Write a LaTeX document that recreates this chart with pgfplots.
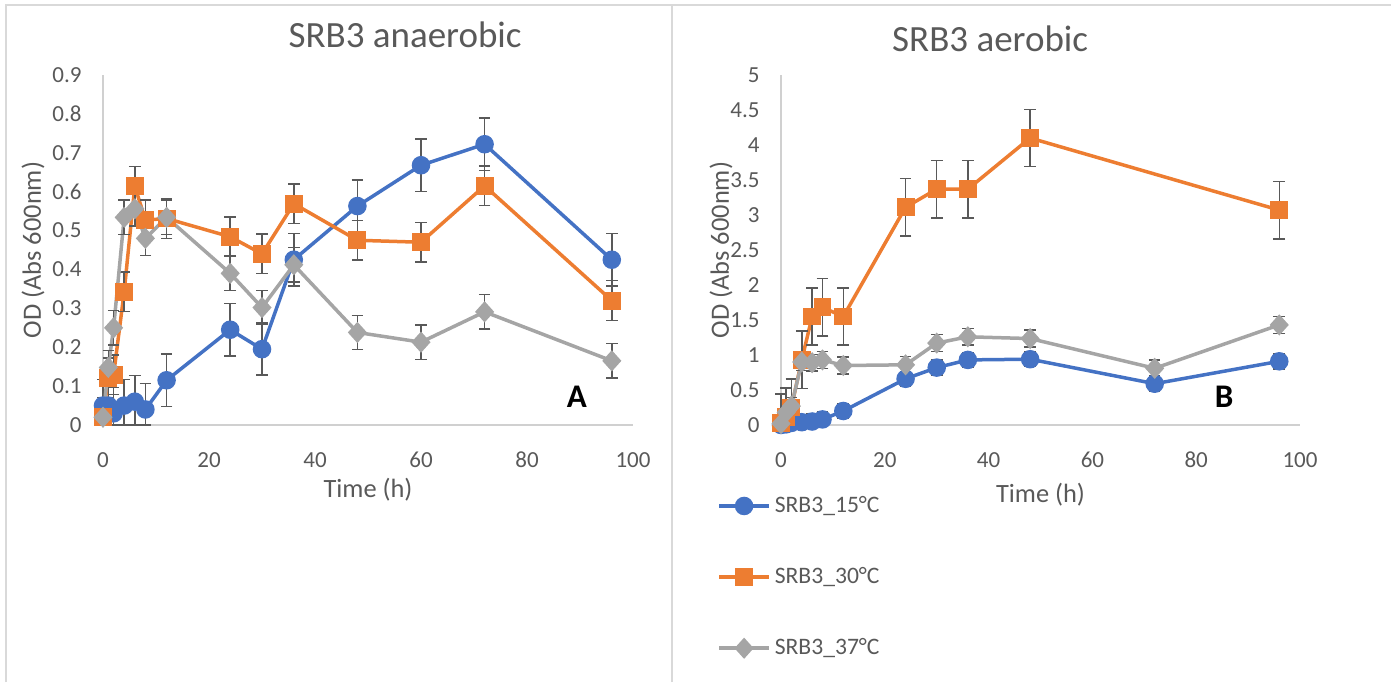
\documentclass[border=0pt]{standalone}
\usepackage{fontspec}
\setmainfont{Carlito}
\usepackage{pgfplots}
\usepackage{pgfplotstable}
\pgfplotsset{compat=1.18}
\definecolor{xlblue}{HTML}{4472C4}
\definecolor{xlorange}{HTML}{ED7D31}
\definecolor{xlgray}{HTML}{A5A5A5}
\definecolor{errgray}{HTML}{595959}
\definecolor{txtgray}{HTML}{595959}
\definecolor{axgray}{HTML}{D0D0D0}
\definecolor{framegray}{HTML}{D9D9D9}

% anaerobic (panel A); m = lower error, cut at the axis
\pgfplotstableread{
t v e m
0 0.05 0.067 0.05
1 0.05 0.067 0.05
2 0.03 0.067 0.03
4 0.05 0.067 0.05
6 0.06 0.067 0.06
8 0.04 0.067 0.04
12 0.115 0.067 0.067
24 0.245 0.067 0.067
30 0.195 0.067 0.067
36 0.425 0.067 0.067
48 0.563 0.067 0.067
60 0.668 0.067 0.067
72 0.722 0.067 0.067
96 0.425 0.067 0.067
}\anaBlue
\pgfplotstableread{
t v e m
0 0.02 0.051 0.02
1 0.121 0.051 0.051
2 0.129 0.051 0.051
4 0.343 0.051 0.051
6 0.614 0.051 0.051
8 0.527 0.051 0.051
12 0.531 0.051 0.051
24 0.484 0.051 0.051
30 0.44 0.051 0.051
36 0.569 0.051 0.051
48 0.475 0.051 0.051
60 0.47 0.051 0.051
72 0.615 0.051 0.051
96 0.32 0.051 0.051
}\anaOrange
\pgfplotstableread{
t v e m
0 0.02 0.044 0.02
1 0.148 0.044 0.044
2 0.25 0.044 0.044
4 0.534 0.044 0.044
6 0.556 0.044 0.044
8 0.48 0.044 0.044
12 0.534 0.044 0.044
24 0.39 0.044 0.044
30 0.302 0.044 0.044
36 0.412 0.044 0.044
48 0.238 0.044 0.044
60 0.213 0.044 0.044
72 0.291 0.044 0.044
96 0.165 0.044 0.044
}\anaGray

% aerobic (panel B)
\pgfplotstableread{
t v e m
0 0.0 0.107 0.0
1 0.01 0.107 0.01
2 0.03 0.107 0.03
4 0.04 0.107 0.04
6 0.05 0.107 0.05
8 0.08 0.107 0.08
12 0.2 0.107 0.107
24 0.66 0.107 0.107
30 0.82 0.107 0.107
36 0.93 0.107 0.107
48 0.94 0.107 0.107
72 0.59 0.107 0.107
96 0.91 0.107 0.107
}\aerBlue
\pgfplotstableread{
t v e m
0 0.03 0.41 0.03
1 0.12 0.41 0.12
2 0.25 0.41 0.25
4 0.93 0.41 0.41
6 1.55 0.41 0.41
8 1.68 0.41 0.41
12 1.55 0.41 0.41
24 3.11 0.41 0.41
30 3.37 0.41 0.41
36 3.37 0.41 0.41
48 4.1 0.41 0.41
96 3.07 0.41 0.41
}\aerOrange
\pgfplotstableread{
t v e m
0 0.02 0.12 0.02
1 0.18 0.12 0.12
2 0.27 0.12 0.12
4 0.9 0.12 0.12
6 0.89 0.12 0.12
8 0.93 0.12 0.12
12 0.85 0.12 0.12
24 0.86 0.12 0.12
30 1.17 0.12 0.12
36 1.26 0.12 0.12
48 1.235 0.12 0.12
72 0.81 0.12 0.12
96 1.43 0.12 0.12
}\aerGray

\pgfplotsset{
  odaxis/.style={
    scale only axis, clip=false,
    axis x line*=bottom, axis y line*=left,
    axis line style={axgray, line width=1pt},
    major tick length=0pt,
    xmin=0, xmax=100, xtick={0,20,...,100},
    /pgf/number format/assume math mode=true,
    /pgf/number format/fixed,
    tick label style={font=\fontsize{11.5}{13}\selectfont, text=txtgray},
    xticklabel style={anchor=center, yshift=-17.5pt},
    yticklabel style={anchor=east, inner sep=0pt, xshift=-10.5pt},
    label style={font=\fontsize{13.2}{15}\selectfont, text=txtgray},
    title style={font=\fontsize{18.5}{21}\selectfont, text=txtgray, anchor=center, yshift=-6pt},
    xlabel={Time (h)}, ylabel={OD (Abs 600nm)},
  },
  ser/.style={line width=1.75pt,
    error bars/y dir=both, error bars/y explicit,
    error bars/error bar style={errgray, line width=0.75pt},
    error bars/error mark options={rotate=90, errgray, mark size=2.9pt, line width=0.75pt}},
  sblue/.style={ser, xlblue, mark=*, mark size=3.75pt, mark options={fill=xlblue, draw=xlblue}},
  sorange/.style={ser, xlorange, mark=square*, mark size=3.6pt, mark options={fill=xlorange, draw=xlorange}},
  sgray/.style={ser, xlgray, mark=diamond*, mark size=4pt, mark options={fill=xlgray, draw=xlgray, xscale=1.2}},
}

\begin{document}
\begin{tikzpicture}
\path[use as bounding box] (0,0) rectangle (695.5pt,341pt);
% chart frames
\draw[framegray, line width=1pt] (3pt,0pt) -- (3pt,338.5pt) -- (695.5pt,338.5pt);
\draw[framegray, line width=1pt] (336pt,0pt) -- (336pt,338.5pt);

\begin{axis}[odaxis,
  at={(51.5pt,128.5pt)}, anchor=south west,
  width=265pt, height=175pt,
  ymin=0, ymax=0.9, ytick={0,0.1,...,0.9},
  /pgf/number format/precision=1,
  title={SRB3 anaerobic},
  title style={at={(axis description cs:0.57,1.114)}},
  xlabel style={at={(axis description cs:0.5,0)}, anchor=center, yshift=-32.5pt},
  ylabel style={at={(axis description cs:0,0.5)}, anchor=center, yshift=35pt},
]
\addplot[sblue] table[x=t, y=v, y error plus=e, y error minus=m]{\anaBlue};
\addplot[sorange] table[x=t, y=v, y error plus=e, y error minus=m]{\anaOrange};
\addplot[sgray] table[x=t, y=v, y error plus=e, y error minus=m]{\anaGray};
\node[font=\bfseries\fontsize{16.5}{18}\selectfont] at (axis cs:89.4,0.072) {A};
\end{axis}

\begin{axis}[odaxis,
  at={(390.5pt,128.5pt)}, anchor=south west,
  width=259.5pt, height=175pt,
  ymin=0, ymax=5, ytick={0,0.5,...,5},
  /pgf/number format/precision=1,
  title={SRB3 aerobic},
  title style={at={(axis description cs:0.403,1.103)}},
  xlabel style={at={(axis description cs:0.5,0)}, anchor=center, yshift=-35pt},
  ylabel style={at={(axis description cs:0,0.5)}, anchor=center, yshift=30pt},
  legend style={at={(axis description cs:-0.135,-0.18)}, anchor=north west,
    draw=none, fill=none, row sep=22pt,
    font=\fontsize{11.8}{13}\selectfont, text=txtgray},
  legend cell align=left,
  legend image code/.code={\draw[mark repeat=2, mark phase=2, #1] plot coordinates {(0pt,0pt) (12.5pt,0pt) (25pt,0pt)};},
]
\addplot[sblue] table[x=t, y=v, y error plus=e, y error minus=m]{\aerBlue};
\addplot[sorange] table[x=t, y=v, y error plus=e, y error minus=m]{\aerOrange};
\addplot[sgray] table[x=t, y=v, y error plus=e, y error minus=m]{\aerGray};
\legend{SRB3\_15°C, SRB3\_30°C, SRB3\_37°C}
\node[font=\bfseries\fontsize{16.5}{18}\selectfont] at (axis cs:85.4,0.4) {B};
\end{axis}
\end{tikzpicture}
\end{document}
